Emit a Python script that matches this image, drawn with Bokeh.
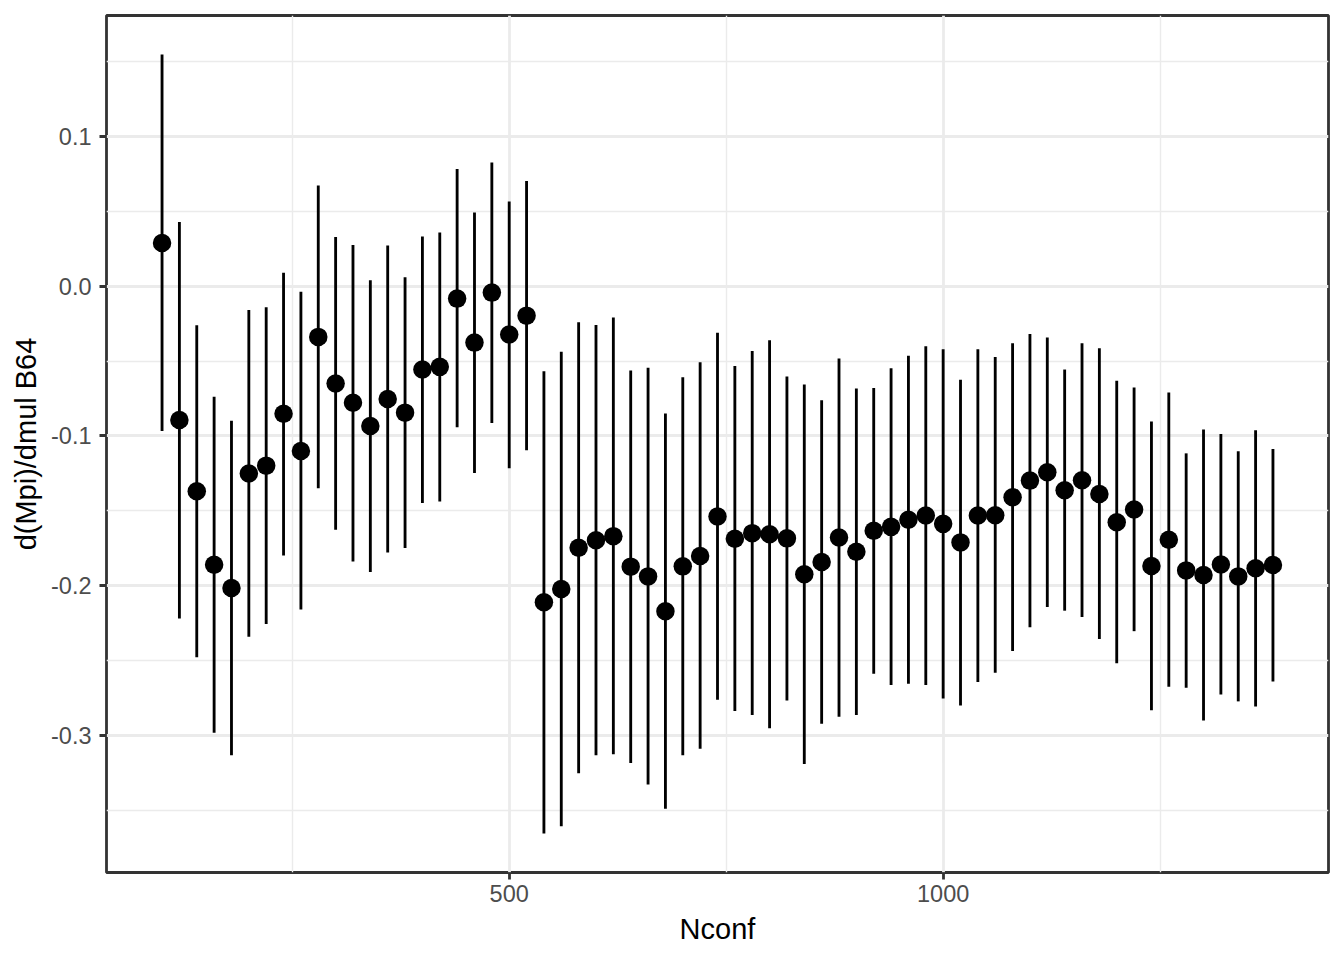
from bokeh.plotting import figure
from bokeh.models import Range1d, FixedTicker, NumeralTickFormatter, ColumnDataSource
from bokeh.embed import file_html
from bokeh.resources import INLINE

nconf = [100, 120, 140, 160, 180, 200, 220, 240, 260, 280,
         300, 320, 340, 360, 380, 400, 420, 440, 460, 480,
         500, 520, 540, 560, 580, 600, 620, 640, 660, 680,
         700, 720, 740, 760, 780, 800, 820, 840, 860, 880,
         900, 920, 940, 960, 980, 1000, 1020, 1040, 1060, 1080,
         1100, 1120, 1140, 1160, 1180, 1200, 1220, 1240, 1260, 1280,
         1300, 1320, 1340, 1360, 1380]

deriv = [0.0289, -0.0893, -0.1369, -0.186, -0.2016, -0.1251, -0.1198, -0.0851, -0.11, -0.0338,
         -0.0649, -0.0778, -0.0933, -0.0753, -0.0844, -0.0556, -0.0538, -0.0082, -0.0376, -0.0042,
         -0.0322, -0.0196, -0.2111, -0.2022, -0.1747, -0.1696, -0.1669, -0.1873, -0.1938, -0.2171,
         -0.1871, -0.1802, -0.1538, -0.1687, -0.1649, -0.1656, -0.1684, -0.1924, -0.1842, -0.1678,
         -0.1773, -0.1633, -0.1607, -0.156, -0.1531, -0.1587, -0.1711, -0.1531, -0.1529, -0.1409,
         -0.1298, -0.1242, -0.1362, -0.1296, -0.1387, -0.1576, -0.1491, -0.1869, -0.1693, -0.1898,
         -0.1929, -0.1858, -0.1938, -0.1884, -0.1862]

upper = [0.1549, 0.0429, -0.026, -0.0738, -0.0898, -0.0158, -0.014, 0.0091, -0.0036, 0.0673,
         0.0329, 0.0276, 0.004, 0.0273, 0.006, 0.0333, 0.036, 0.0784, 0.0493, 0.0827,
         0.0567, 0.0704, -0.0567, -0.0438, -0.024, -0.0258, -0.0209, -0.0562, -0.0544, -0.0849,
         -0.0607, -0.0507, -0.0311, -0.0533, -0.0433, -0.036, -0.0602, -0.0656, -0.0762, -0.0482,
         -0.0682, -0.068, -0.0547, -0.0464, -0.04, -0.042, -0.0624, -0.042, -0.0473, -0.038,
         -0.0318, -0.0342, -0.0556, -0.038, -0.0413, -0.0631, -0.0676, -0.0904, -0.0709, -0.1116,
         -0.0956, -0.0987, -0.1102, -0.0962, -0.1087]

lower = [-0.0967, -0.222, -0.2478, -0.2982, -0.3133, -0.2342, -0.2256, -0.1798, -0.216, -0.1349,
         -0.1627, -0.1838, -0.1909, -0.1778, -0.1749, -0.1447, -0.1438, -0.0942, -0.1247, -0.0913,
         -0.1216, -0.1096, -0.3656, -0.3607, -0.3253, -0.3133, -0.3127, -0.3184, -0.3329, -0.3491,
         -0.3133, -0.3089, -0.2762, -0.2838, -0.2864, -0.2953, -0.2767, -0.3191, -0.2922, -0.2876,
         -0.2864, -0.2589, -0.2664, -0.2656, -0.2664, -0.2753, -0.28, -0.2644, -0.2582, -0.2436,
         -0.2278, -0.2142, -0.2167, -0.2209, -0.2356, -0.2518, -0.2304, -0.2833, -0.2676, -0.2682,
         -0.29, -0.2727, -0.2773, -0.2807, -0.264]

x_ticks = [500, 1000]
x_minor = [250, 750, 1250]
y_ticks = [-0.3, -0.2, -0.1, 0.0, 0.1]
y_minor = [-0.35, -0.25, -0.15, -0.05, 0.05, 0.15]

src = ColumnDataSource(dict(x=nconf, y=deriv, lo=lower, hi=upper))

xmin, xmax = min(nconf), max(nconf)
ymin, ymax = min(lower), max(upper)
xpad = (xmax - xmin) * 0.05
ypad = (ymax - ymin) * 0.05

p = figure(width=1336, height=950, output_backend="svg", toolbar_location=None,
           x_range=Range1d(xmin - xpad, xmax + xpad),
           y_range=Range1d(ymin - ypad, ymax + ypad),
           min_border_left=106, min_border_right=8, min_border_top=15, min_border_bottom=78)

p.background_fill_color = "white"
p.border_fill_color = "white"
p.outline_line_color = "#333333"
p.outline_line_width = 2.8

p.segment(x0="x", y0="lo", x1="x", y1="hi", source=src, line_color="black", line_width=2.85)
p.scatter(x="x", y="y", source=src, size=18.5, fill_color="black", line_color="black", line_width=0)

p.xaxis.ticker = FixedTicker(ticks=x_ticks, minor_ticks=x_minor)
p.yaxis.ticker = FixedTicker(ticks=y_ticks, minor_ticks=y_minor)
p.yaxis.formatter = NumeralTickFormatter(format="0.0")
p.xaxis.formatter = NumeralTickFormatter(format="0")

for g in (p.xgrid[0], p.ygrid[0]):
    g.grid_line_color = "#EBEBEB"
    g.grid_line_width = 2.8
    g.minor_grid_line_color = "#EBEBEB"
    g.minor_grid_line_width = 1.4

for ax in (p.xaxis[0], p.yaxis[0]):
    ax.axis_line_color = None
    ax.major_tick_line_color = "#333333"
    ax.major_tick_line_width = 2.8
    ax.major_tick_in = 0
    ax.major_tick_out = 7
    ax.minor_tick_line_color = None
    ax.major_label_text_font = "Liberation Sans"
    ax.major_label_text_font_size = "23.5px"
    ax.major_label_text_color = "#4D4D4D"
    ax.axis_label_text_font = "Liberation Sans"
    ax.axis_label_text_font_size = "29px"
    ax.axis_label_text_font_style = "normal"
    ax.axis_label_text_color = "black"

p.xaxis.axis_label = "Nconf"
p.yaxis.axis_label = "d(Mpi)/dmul B64"
p.xaxis.major_label_standoff = 5
p.yaxis.major_label_standoff = 8
p.xaxis.axis_label_standoff = 8
p.yaxis.axis_label_standoff = 6

open("out.html", "w").write(file_html(p, INLINE))
